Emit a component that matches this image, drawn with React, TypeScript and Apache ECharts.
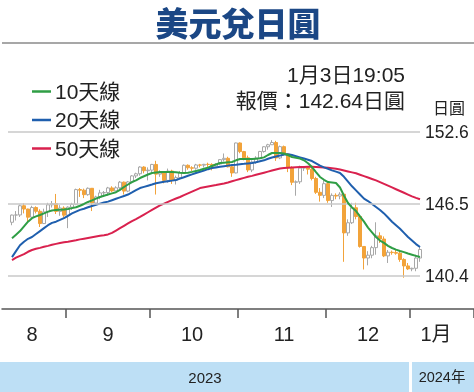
import React, { useEffect, useRef } from 'react';
import * as echarts from 'echarts';

const DATES = [
  '08-14','08-15','08-16','08-17','08-18','08-21','08-22','08-23','08-24','08-25','08-28','08-29','08-30','08-31',
  '09-01','09-04','09-05','09-06','09-07','09-08','09-11','09-12','09-13','09-14','09-15','09-18','09-19','09-20','09-21','09-22','09-25','09-26','09-27','09-28','09-29',
  '10-02','10-03','10-04','10-05','10-06','10-09','10-10','10-11','10-12','10-13','10-16','10-17','10-18','10-19','10-20','10-23','10-24','10-25','10-26','10-27','10-30','10-31',
  '11-01','11-02','11-03','11-06','11-07','11-08','11-09','11-10','11-13','11-14','11-15','11-16','11-17','11-20','11-21','11-22','11-23','11-24','11-27','11-28','11-29','11-30',
  '12-01','12-04','12-05','12-06','12-07','12-08','12-11','12-12','12-13','12-14','12-15','12-18','12-19','12-20','12-21','12-22','12-25','12-26','12-27','12-28','12-29',
  '01-01','01-02','01-03',
];

// [open, close, low, high]
const CANDLES: number[][] = [
  [144.95,145.56,144.70,145.60],[145.56,145.57,145.10,145.90],[145.57,146.35,145.40,146.45],[146.35,146.07,145.70,146.55],
  [146.07,145.38,144.90,146.10],[145.38,146.20,145.30,146.35],[146.20,145.88,145.70,146.30],[145.88,144.84,144.55,146.05],
  [144.84,145.83,144.80,146.10],[145.83,146.43,145.40,146.60],[146.43,146.53,146.20,146.75],[146.53,145.87,145.65,147.35],
  [145.87,146.16,145.50,146.40],[146.16,145.55,145.35,146.30],
  [145.55,146.23,144.45,146.30],[146.23,146.47,146.00,146.60],[146.47,147.72,146.40,147.80],[147.72,147.67,147.10,147.85],
  [147.67,147.29,147.00,147.80],[147.29,147.83,147.20,147.90],[147.83,146.58,145.90,147.85],[146.58,147.10,146.40,147.20],
  [147.10,147.44,146.90,147.70],[147.44,147.47,147.20,147.60],[147.47,147.86,147.20,147.95],[147.86,147.61,147.50,148.00],
  [147.61,147.87,147.60,148.00],[147.87,148.35,147.60,148.45],[148.35,147.59,147.30,148.40],[147.59,148.37,147.50,148.45],
  [148.37,148.88,148.35,148.95],[148.88,149.06,148.70,149.15],[149.06,149.63,148.90,149.70],[149.63,149.32,149.10,149.70],
  [149.32,149.37,148.50,149.60],
  [149.37,149.85,149.20,149.90],[149.85,149.03,147.30,150.16],[149.03,149.13,148.80,149.35],[149.13,148.50,148.25,149.20],
  [148.50,149.29,148.30,149.50],[149.29,148.52,148.20,149.40],[148.52,148.74,148.15,148.90],[148.74,149.15,148.70,149.30],
  [149.15,149.78,149.10,149.85],[149.78,149.57,149.40,149.85],[149.57,149.53,149.30,149.70],[149.53,149.81,149.40,149.90],
  [149.81,149.79,149.60,149.90],[149.79,149.86,149.60,149.90],[149.86,149.85,149.60,150.00],[149.85,149.70,149.35,149.95],
  [149.70,149.88,149.70,149.95],[149.88,150.26,149.80,150.30],[150.26,150.37,150.10,150.78],[150.37,149.65,149.60,150.50],
  [149.65,149.13,148.80,149.80],[149.13,151.67,149.10,151.70],
  [151.67,150.94,150.80,151.72],[150.94,150.41,150.20,151.00],[150.41,149.38,149.20,150.60],[149.38,150.05,149.20,150.20],
  [150.05,150.39,149.90,150.55],[150.39,150.95,150.30,151.00],[150.95,151.35,150.85,151.40],[151.35,151.52,151.10,151.60],
  [151.52,151.71,151.50,151.91],[151.71,150.40,150.15,151.85],[150.40,151.36,150.30,151.45],[151.36,150.73,150.60,151.45],
  [150.73,149.59,149.20,150.80],[149.59,148.34,148.10,149.70],[148.34,148.38,147.20,148.50],[148.38,149.54,148.20,149.75],
  [149.54,149.57,149.30,149.70],[149.57,149.45,149.00,149.65],[149.45,148.66,148.50,149.60],[148.66,147.49,147.35,148.80],
  [147.49,147.23,146.70,147.85],[147.23,148.22,147.00,148.50],
  [148.22,146.79,146.60,148.30],[146.79,147.23,146.25,147.40],[147.23,147.17,146.90,147.40],[147.17,147.33,146.90,147.50],
  [147.33,144.05,141.60,147.40],[144.05,144.91,143.80,145.20],[144.91,146.18,144.80,146.60],[146.18,145.44,145.20,146.60],
  [145.44,142.90,142.80,145.60],[142.90,141.92,140.95,142.90],[141.92,142.16,141.30,142.50],[142.16,142.80,141.90,142.95],
  [142.80,143.80,142.20,144.95],[143.80,143.53,143.20,144.10],[143.53,142.10,142.00,143.75],[142.10,142.41,141.50,142.60],
  [142.41,142.38,142.20,142.55],[142.38,142.33,142.20,142.60],[142.33,141.80,141.60,142.50],[141.80,141.25,140.25,141.90],
  [141.25,141.00,140.90,141.50],
  [141.00,141.05,140.80,141.10],[141.05,141.92,140.80,142.20],[141.92,142.64,141.60,142.90],
];

const MA10 = [
  143.6,143.9,144.2,144.6,145.0,145.3,145.45,145.57,145.7,145.85,145.95,146.0,146.02,146.04,
  146.07,146.15,146.22,146.35,146.5,146.67,146.8,146.95,147.09,147.2,147.3,147.4,147.5,147.7,147.94,148.15,148.36,148.5,148.7,148.85,149.0,
  149.13,149.17,149.2,149.2,149.2,149.2,149.18,149.15,149.13,149.15,149.22,149.3,149.38,149.48,149.58,149.72,149.85,149.97,150.0,150.03,150.06,150.2,
  150.31,150.31,150.31,150.31,150.34,150.37,150.45,150.65,150.82,150.82,150.82,150.78,150.65,150.48,150.42,150.35,150.2,149.95,149.63,149.2,148.79,148.55,
  148.36,148.32,148.28,147.9,147.2,146.58,146.2,145.9,145.45,145.0,144.5,144.1,143.7,143.4,143.2,142.95,142.77,142.63,142.52,142.42,142.3,
  142.2,142.1,142.0,
];

const MA20 = [
  142.0,142.5,143.0,143.3,143.55,143.7,143.95,144.2,144.45,144.7,144.9,145.0,145.15,145.3,
  145.5,145.7,145.85,146.0,146.1,146.22,146.33,146.43,146.53,146.63,146.7,146.82,146.94,147.06,147.18,147.3,147.48,147.67,147.85,147.95,148.05,
  148.15,148.26,148.32,148.38,148.43,148.48,148.53,148.65,148.77,148.89,149.01,149.13,149.23,149.34,149.45,149.55,149.6,149.65,149.7,149.75,149.8,149.83,
  149.87,149.9,149.94,149.97,150.04,150.12,150.2,150.33,150.44,150.53,150.6,150.7,150.72,150.65,150.55,150.45,150.35,150.25,150.14,149.95,149.75,149.6,
  149.48,149.35,149.24,149.13,148.8,148.4,148.0,147.65,147.3,146.95,146.75,146.5,146.25,145.99,145.7,145.35,145.0,144.7,144.4,144.05,143.7,
  143.4,143.1,142.85,
];

const MA50 = [
  141.75,141.95,142.1,142.25,142.45,142.6,142.7,142.78,142.87,142.95,143.05,143.12,143.19,143.25,
  143.3,143.36,143.42,143.5,143.56,143.62,143.68,143.74,143.8,143.85,143.92,144.05,144.25,144.45,144.65,144.85,145.05,145.22,145.4,145.6,145.8,
  146.0,146.2,146.38,146.53,146.68,146.83,146.96,147.09,147.25,147.4,147.55,147.7,147.85,147.92,147.98,148.04,148.1,148.17,148.24,148.32,148.42,148.52,
  148.62,148.71,148.8,148.88,148.97,149.06,149.15,149.24,149.33,149.42,149.5,149.55,149.58,149.6,149.62,149.63,149.64,149.65,149.65,149.64,149.62,149.6,
  149.57,149.53,149.48,149.42,149.34,149.26,149.18,149.1,148.98,148.86,148.74,148.62,148.5,148.35,148.2,148.05,147.9,147.75,147.6,147.45,147.3,
  147.15,147.02,146.9,
];

const Y_TICKS = [140.4, 146.5, 152.6];
const SERIES_NAMES = ['10天線', '20天線', '50天線'];
const MONTH_LABELS: Record<number, string> = { 7: '8', 26: '9', 47: '10', 70: '11', 91: '12', 108: '1月' };
const TITLE = '美元兌日圓';
const STAMP = '1月3日19:05';
const QUOTE = '報價：142.64日圓';
const UNIT = '日圓';
const YEARS = ['2023', '2024年'];

const PAD_LEFT = 2;
const PAD_RIGHT = 13;

const COLORS = { ma10: '#2f9e45', ma20: '#1f5fae', ma50: '#d9214e', up: '#ffffff', upBorder: '#a8a8a8', down: '#f2a33a' };
const SANS = "'Liberation Sans', 'Noto Sans CJK TC', sans-serif";
const CJK = "'Noto Sans CJK TC', sans-serif";

export default function App() {
  const ref = useRef<HTMLDivElement>(null);
  useEffect(() => {
    if (!ref.current) return;
    const chart = echarts.init(ref.current, null, { renderer: 'svg' });
    const cats: string[] = [];
    for (let i = 0; i < PAD_LEFT; i++) cats.push('padL' + i);
    DATES.forEach((d) => cats.push(d));
    for (let i = 0; i < PAD_RIGHT; i++) cats.push('padR' + i);
    const padL = (v: any) => Array(PAD_LEFT).fill(v);
    const padR = (v: any) => Array(PAD_RIGHT).fill(v);
    const candleData = [...padL(['-', '-', '-', '-']), ...CANDLES, ...padR(['-', '-', '-', '-'])];
    const line = (arr: number[]) => [...padL(null), ...arr, ...padR(null)];
    const firstIdx = PAD_LEFT - 1;
    const lastIdx = PAD_LEFT + DATES.length - 1;

    chart.setOption({
      animation: false,
      grid: { left: 2, width: 472, top: 132, height: 177 },
      legend: {
        data: SERIES_NAMES,
        orient: 'vertical',
        left: 27,
        top: 76,
        itemGap: 7.5,
        itemWidth: 19,
        itemHeight: 2.5,
        icon: 'rect',
        selectedMode: false,
        textStyle: { fontSize: 21, color: '#222', fontFamily: SANS, padding: [0, 0, 0, -1] },
      },
      xAxis: {
        type: 'category',
        data: cats,
        boundaryGap: true,
        axisLine: { lineStyle: { color: '#555', width: 1.5 } },
        axisTick: {
          show: true,
          length: 9,
          lineStyle: { color: '#555', width: 1.5 },
          interval: (index: number) => {
            if (index <= PAD_LEFT || index > lastIdx) return false;
            return cats[index].slice(0, 2) !== cats[index - 1].slice(0, 2);
          },
        },
        axisLabel: {
          interval: (index: number) => MONTH_LABELS[index] !== undefined,
          formatter: (_v: string, index: number) => MONTH_LABELS[index] ?? '',
          fontSize: 20,
          color: '#222',
          fontFamily: SANS,
          margin: 15,
        },
        splitLine: { show: false },
      },
      yAxis: { type: 'value', min: 137.6, max: 152.6, show: false, splitLine: { show: false } },
      series: [
        {
          type: 'line',
          data: [],
          z: 1,
          silent: true,
          markLine: {
            silent: true,
            symbol: ['none', 'none'],
            lineStyle: { color: '#c8c8c8', width: 1.5, type: 'solid' },
            label: { show: true, position: 'end', formatter: '{b}', fontSize: 17.5, color: '#222', fontFamily: SANS, distance: 5 },
            data: Y_TICKS.map((v) => [
              { name: v.toFixed(1), coord: [cats[firstIdx], v] },
              { coord: [cats[lastIdx], v] },
            ]),
          },
        },
        {
          type: 'candlestick',
          data: candleData,
          barWidth: 3,
          z: 2,
          itemStyle: { color: COLORS.up, color0: COLORS.down, borderColor: COLORS.upBorder, borderColor0: COLORS.down, borderWidth: 1 },
        },
        { name: SERIES_NAMES[2], type: 'line', data: line(MA50), z: 3, showSymbol: false, color: COLORS.ma50, lineStyle: { width: 2, color: COLORS.ma50 } },
        { name: SERIES_NAMES[1], type: 'line', data: line(MA20), z: 4, showSymbol: false, color: COLORS.ma20, lineStyle: { width: 2, color: COLORS.ma20 } },
        { name: SERIES_NAMES[0], type: 'line', data: line(MA10), z: 5, showSymbol: false, color: COLORS.ma10, lineStyle: { width: 2, color: COLORS.ma10 } },
      ],
      graphic: [
        { type: 'text', x: 238, y: 5, style: { text: TITLE, fill: '#1b4785', font: `900 33px ${CJK}`, textAlign: 'center', textVerticalAlign: 'top' } },
        { type: 'line', shape: { x1: 2, y1: 43, x2: 474, y2: 43 }, style: { stroke: '#8a8a8a', lineWidth: 1.5 } },
        { type: 'text', x: 405, y: 74, style: { text: STAMP, fill: '#222', font: `21px ${SANS}`, textAlign: 'right', textVerticalAlign: 'middle' } },
        { type: 'text', x: 405, y: 100, style: { text: QUOTE, fill: '#222', font: `21px ${SANS}`, textAlign: 'right', textVerticalAlign: 'middle' } },
        { type: 'text', x: 449, y: 107, style: { text: UNIT, fill: '#222', font: `16px ${CJK}`, textAlign: 'center', textVerticalAlign: 'middle' } },
        { type: 'rect', shape: { x: 0, y: 362, width: 409, height: 30 }, style: { fill: '#bddff5' } },
        { type: 'rect', shape: { x: 412, y: 362, width: 62, height: 30 }, style: { fill: '#bddff5' } },
        { type: 'text', x: 205, y: 377, style: { text: YEARS[0], fill: '#222', font: `15px ${SANS}`, textAlign: 'center', textVerticalAlign: 'middle' } },
        { type: 'text', x: 442, y: 377, style: { text: YEARS[1], fill: '#222', font: `14.5px ${SANS}`, textAlign: 'center', textVerticalAlign: 'middle' } },
      ],
    });
    return () => chart.dispose();
  }, []);
  return <div ref={ref} style={{ position: 'fixed', left: 0, top: 0, width: 474, height: 392 }} />;
}
